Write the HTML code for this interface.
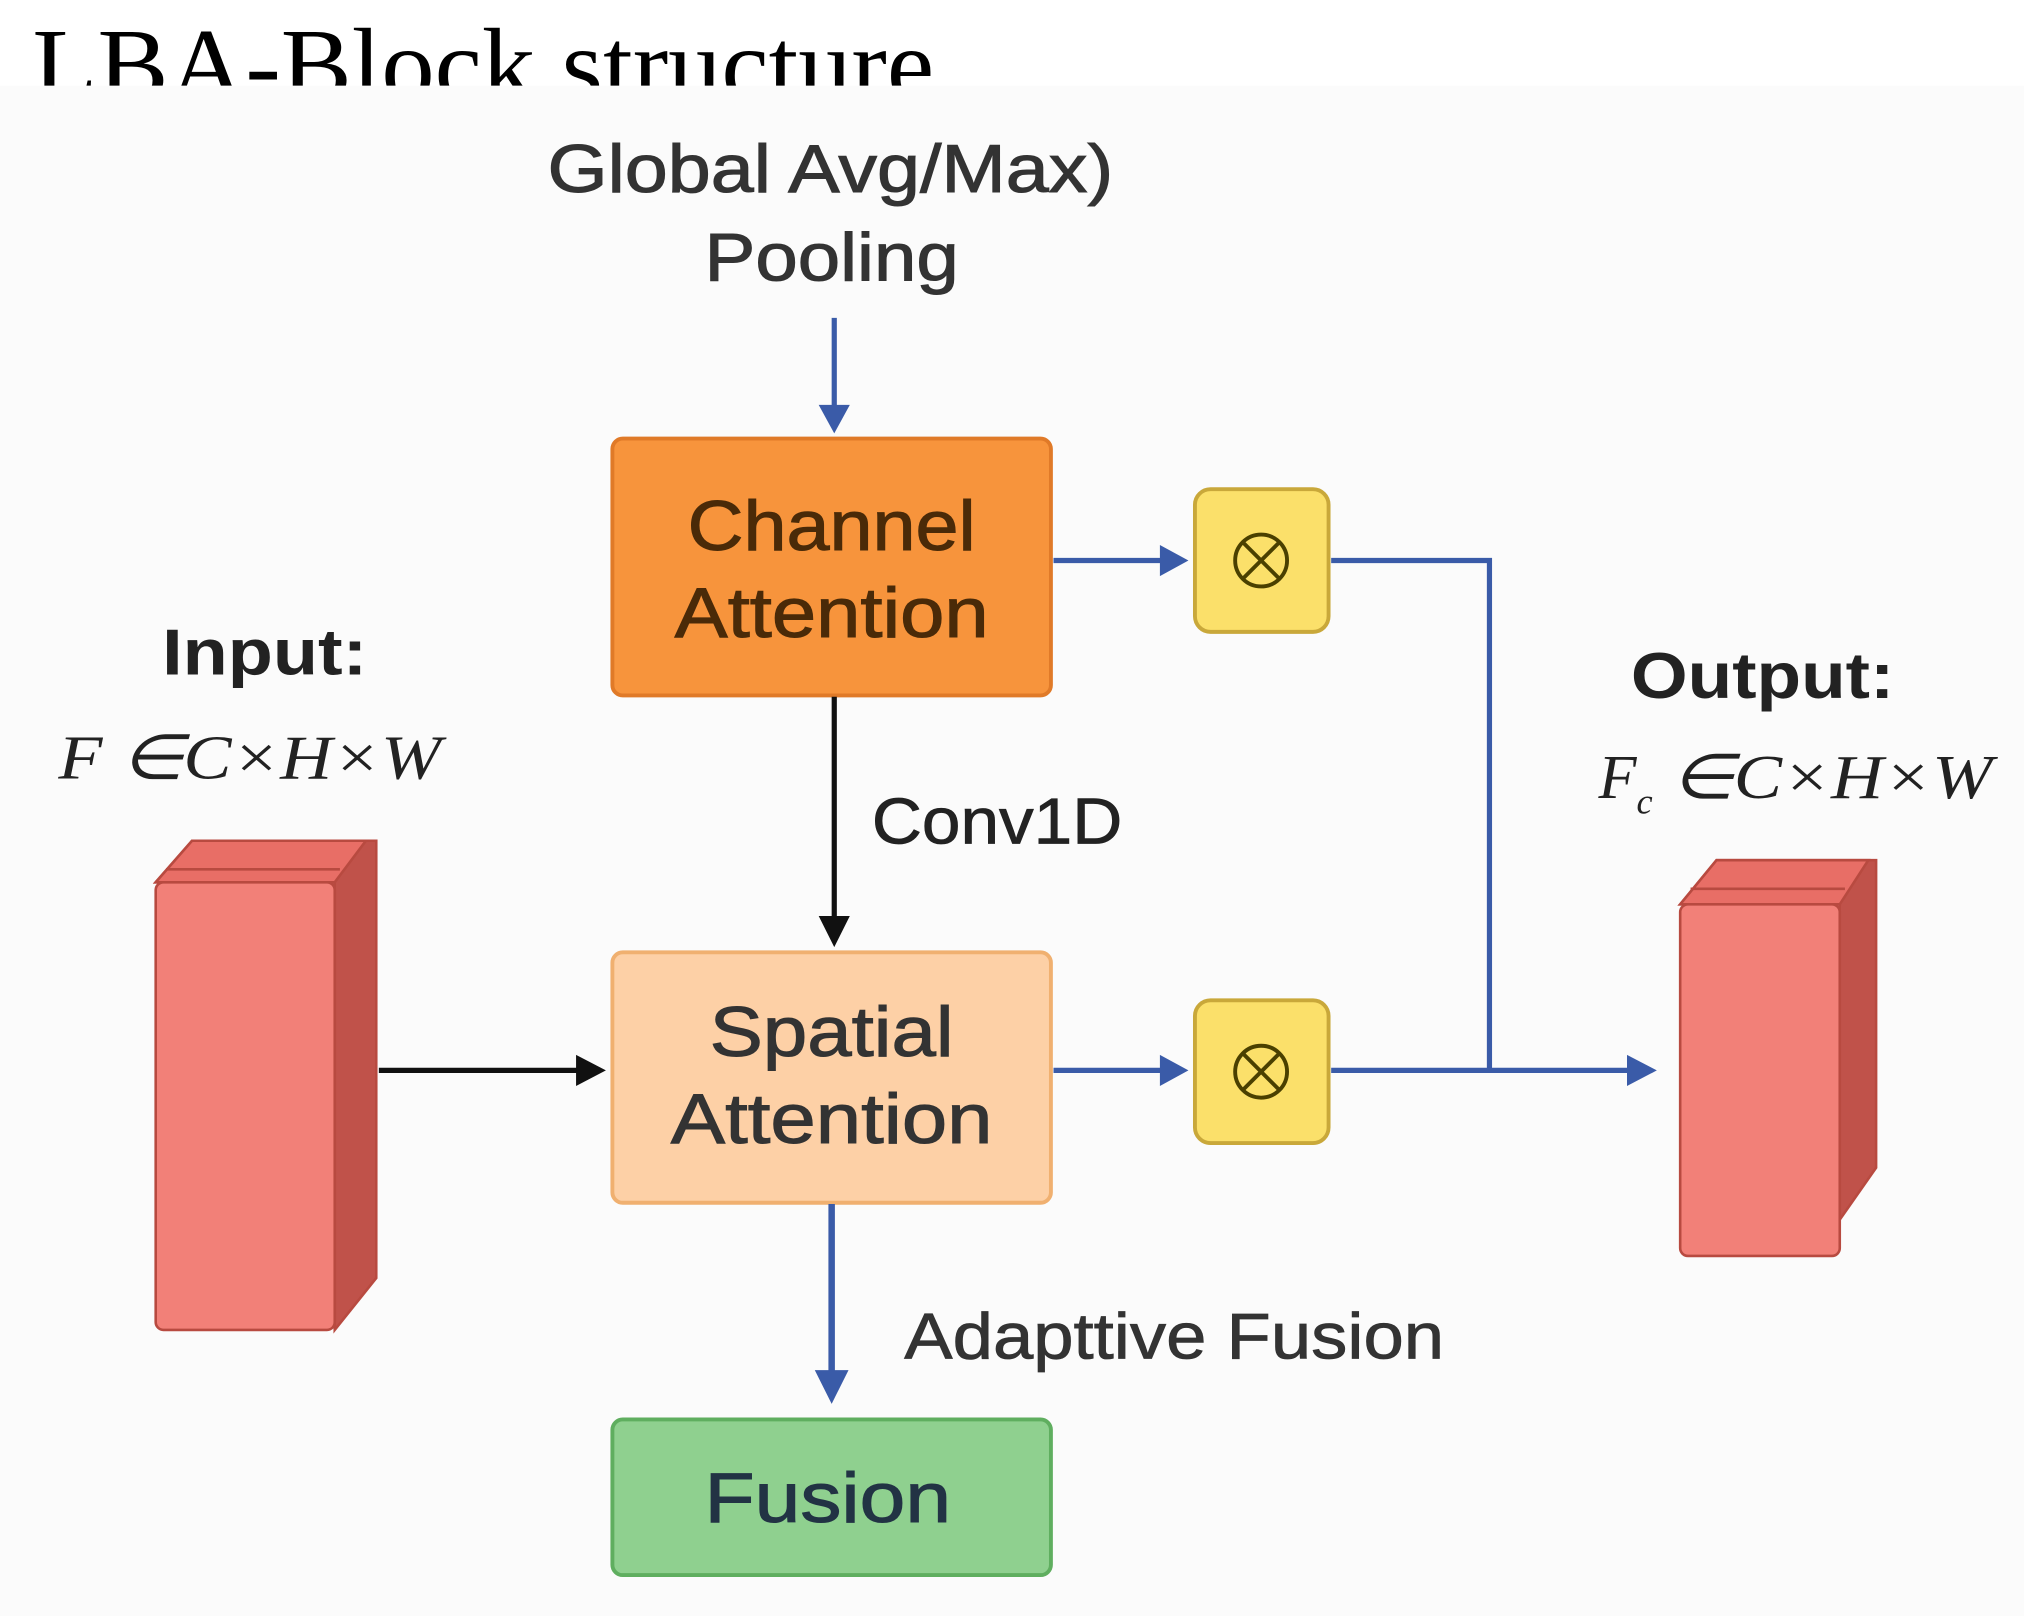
<!DOCTYPE html>
<html><head><meta charset="utf-8"><style>
html,body{margin:0;padding:0;background:#fff;}
svg{display:block;}
.s{font-family:"Liberation Sans",Arial,sans-serif;}
</style></head><body>
<svg width="2024" height="1616" viewBox="0 0 1560 1245.5" xmlns="http://www.w3.org/2000/svg">
<defs>
<clipPath id="tc"><rect x="0" y="0" width="1560" height="66"/></clipPath>
</defs>
<rect x="0" y="66" width="1560" height="1180" fill="#fbfbfb"/>
<text x="25" y="77" clip-path="url(#tc)" font-family="Liberation Serif,serif" font-size="80" fill="#000" textLength="695" lengthAdjust="spacingAndGlyphs">LBA-Block structure</text>

<g class="s" fill="#333" font-size="52" stroke="#333" stroke-width="0.8">
<text x="422" y="148" textLength="436" lengthAdjust="spacingAndGlyphs">Global Avg/Max)</text>
<text x="543" y="216" textLength="196" lengthAdjust="spacingAndGlyphs">Pooling</text>
</g>
<line x1="643" y1="245" x2="643" y2="315" stroke="#3a5ba8" stroke-width="4"/>
<path d="M631,312 L655,312 L643,334 z" fill="#3a5ba8"/>

<rect x="472" y="338" width="338" height="198" rx="8" fill="#f7943c" stroke="#e07a28" stroke-width="3"/>
<g class="s" fill="#4a2a08" font-size="54" stroke="#4a2a08" stroke-width="0.8">
<text x="530" y="424" textLength="222" lengthAdjust="spacingAndGlyphs">Channel</text>
<text x="520" y="491" textLength="242" lengthAdjust="spacingAndGlyphs">Attention</text>
</g>

<line x1="643" y1="537" x2="643" y2="710" stroke="#111" stroke-width="4"/>
<path d="M631,706 L655,706 L643,730 z" fill="#111"/>
<text class="s" x="672" y="650" font-size="50" fill="#222" stroke="#222" stroke-width="0.6" textLength="193" lengthAdjust="spacingAndGlyphs">Conv1D</text>

<rect x="472" y="734" width="338" height="193" rx="8" fill="#fdd0a6" stroke="#f0b070" stroke-width="3"/>
<g class="s" fill="#333" font-size="54" stroke="#333" stroke-width="0.8">
<text x="547" y="814" textLength="188" lengthAdjust="spacingAndGlyphs">Spatial</text>
<text x="517" y="881" textLength="248" lengthAdjust="spacingAndGlyphs">Attention</text>
</g>

<line x1="641" y1="928" x2="641" y2="1060" stroke="#3a5ba8" stroke-width="5"/>
<path d="M628,1056 L654,1056 L641,1082 z" fill="#3a5ba8"/>
<text class="s" x="697" y="1047" font-size="50" fill="#333" stroke="#333" stroke-width="0.6" textLength="416" lengthAdjust="spacingAndGlyphs">Adapttive Fusion</text>

<rect x="472" y="1094" width="338" height="120" rx="8" fill="#8fd08f" stroke="#5fae5f" stroke-width="3"/>
<text class="s" x="543" y="1173" font-size="54" fill="#234" stroke="#234" stroke-width="0.8" textLength="190" lengthAdjust="spacingAndGlyphs">Fusion</text>

<rect x="921" y="377" width="103" height="110" rx="12" fill="#fbe06a" stroke="#c9a83a" stroke-width="3"/>
<circle cx="972" cy="432" r="20" fill="none" stroke="#4a4000" stroke-width="3"/>
<path d="M958,418 L986,446 M986,418 L958,446" stroke="#4a4000" stroke-width="3"/>
<rect x="921" y="771" width="103" height="110" rx="12" fill="#fbe06a" stroke="#c9a83a" stroke-width="3"/>
<circle cx="972" cy="826" r="20" fill="none" stroke="#4a4000" stroke-width="3"/>
<path d="M958,812 L986,840 M986,812 L958,840" stroke="#4a4000" stroke-width="3"/>

<g stroke="#3a5ba8" stroke-width="4" fill="none">
<line x1="812" y1="432" x2="898" y2="432"/>
<line x1="812" y1="825" x2="898" y2="825"/>
<polyline points="1026,432 1148,432 1148,825"/>
<line x1="1026" y1="825" x2="1258" y2="825"/>
</g>
<path d="M894,420 L916,432 L894,444 z" fill="#3a5ba8"/>
<path d="M894,813 L916,825 L894,837 z" fill="#3a5ba8"/>
<path d="M1254,813 L1277,825 L1254,837 z" fill="#3a5ba8"/>

<line x1="292" y1="825" x2="448" y2="825" stroke="#111" stroke-width="4"/>
<path d="M444,813 L467,825 L444,837 z" fill="#111"/>

<g stroke="#b84a40" stroke-width="2">
<path d="M120,680 L148,648 L290,648 L290,985 L258,1025 L258,680 z" fill="#c0524a"/>
<path d="M120,680 L148,648 L282,648 L258,680 z" fill="#e86e66"/>
<path d="M128,670 L262,670" fill="none"/>
<rect x="120" y="680" width="138" height="345" rx="6" fill="#f28078"/>
</g>
<text class="s" x="125" y="520" font-size="50" font-weight="bold" fill="#222" textLength="158" lengthAdjust="spacingAndGlyphs">Input:</text>
<text x="45" y="600" font-family="Liberation Serif,serif" font-style="italic" font-size="48" fill="#222" textLength="295" lengthAdjust="spacingAndGlyphs">F ∈C×H×W</text>

<g stroke="#b84a40" stroke-width="2">
<path d="M1295,697 L1323,663 L1446,663 L1446,900 L1418,940 L1418,697 z" fill="#c0524a"/>
<path d="M1295,697 L1323,663 L1440,663 L1418,697 z" fill="#e86e66"/>
<path d="M1303,685 L1422,685" fill="none"/>
<rect x="1295" y="697" width="123" height="271" rx="6" fill="#f28078"/>
</g>
<text class="s" x="1257" y="538" font-size="50" font-weight="bold" fill="#222" textLength="203" lengthAdjust="spacingAndGlyphs">Output:</text>
<text x="1232" y="615" font-family="Liberation Serif,serif" font-style="italic" font-size="48" fill="#222">F<tspan font-size="28" dy="12">c</tspan><tspan dy="-12" textLength="262" lengthAdjust="spacingAndGlyphs"> ∈C×H×W</tspan></text>
</svg>
</body></html>
